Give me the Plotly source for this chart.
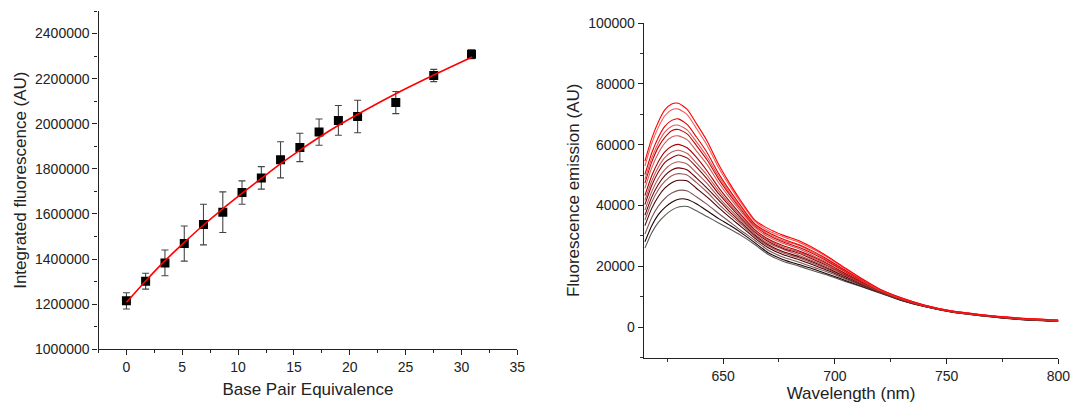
import plotly.graph_objects as go

# ---------------- Left panel data ----------------
bp_equiv = [0, 1.72, 3.45, 5.18, 6.9, 8.63, 10.35, 12.08, 13.8, 15.53, 17.25, 18.98, 20.7, 24.12, 27.52, 30.9]
integrated = [1215000, 1302000, 1383000, 1469000, 1553000, 1608000, 1695000, 1760000, 1840000, 1895000,
              1963000, 2015000, 2032000, 2094000, 2214000, 2308000]
integrated_err = [36000, 35000, 57000, 78000, 90000, 90000, 52000, 50000, 80000, 63000,
                  58000, 66000, 72000, 49000, 27000, 20000]
fit_x = [0, 1.72, 3.44, 5.16, 6.88, 8.6, 10.32, 12.04, 13.76, 15.48, 17.2, 18.92, 20.64, 24.08, 27.52, 30.96]
fit_y = [1208000, 1303000, 1392000, 1473000, 1550000, 1622000, 1690000, 1756000, 1821000, 1881000,
         1938000, 1991000, 2040000, 2132000, 2216000, 2296000]

# ---------------- Right panel data ----------------
wavelength = [615, 618, 621, 624, 627, 630, 634, 638, 643, 648, 653, 658, 664, 670, 677, 684, 691, 698,
              705, 712, 720, 730, 740, 752, 765, 780, 800]
em_00 = [26000, 31000, 34500, 36800, 38500, 39500, 39700, 38300, 36300, 34300, 32300, 30200, 27300, 24000, 21600, 20100, 18400, 16800, 15000, 13300, 11300, 8700, 6800, 5000, 3800, 2700, 1900]
em_01 = [28100, 33300, 37000, 39400, 41100, 42100, 42000, 40600, 38200, 35700, 33500, 31100, 27900, 24600, 22200, 20600, 19000, 17200, 15300, 13500, 11400, 8800, 6800, 5000, 3800, 2700, 1900]
em_02 = [30600, 36000, 39800, 42400, 44100, 45000, 44800, 42900, 40300, 37400, 34600, 31800, 28700, 25400, 23000, 21400, 19600, 17800, 15700, 13700, 11500, 8800, 6900, 5100, 3900, 2800, 2000]
em_03 = [33400, 39000, 43000, 45800, 47500, 48300, 48100, 45700, 42700, 39300, 36100, 33100, 29400, 26200, 23800, 22200, 20300, 18300, 16100, 14000, 11600, 8900, 6900, 5100, 3900, 2800, 2000]
em_04 = [35200, 41000, 45200, 48000, 49800, 50500, 50000, 47600, 44300, 40500, 37100, 33900, 29900, 26800, 24400, 22800, 20800, 18700, 16400, 14200, 11700, 9000, 7000, 5100, 3900, 2900, 2100]
em_05 = [36800, 42700, 46900, 49900, 51700, 52400, 51700, 49100, 45600, 41800, 37900, 34500, 30400, 27200, 24800, 23200, 21200, 19000, 16600, 14300, 11800, 9000, 7000, 5200, 4000, 2900, 2100]
em_06 = [38500, 44500, 48900, 51900, 53700, 54400, 53600, 50800, 47100, 42700, 38800, 35100, 30800, 27700, 25600, 23700, 21600, 19400, 16900, 14500, 11900, 9100, 7000, 5200, 4000, 2900, 2100]
em_07 = [40300, 46500, 51000, 54200, 55700, 56600, 55600, 52700, 48600, 43900, 39800, 35800, 31400, 28300, 25900, 24300, 22100, 19800, 17200, 14700, 12000, 9200, 7100, 5200, 4000, 3000, 2200]
em_08 = [41700, 48000, 52600, 55800, 57600, 58200, 57100, 54000, 49800, 44800, 40500, 36400, 31700, 28700, 26300, 24700, 22500, 20000, 17400, 14800, 12000, 9200, 7100, 5200, 4000, 3000, 2200]
em_09 = [43300, 49700, 54400, 57700, 59500, 60100, 58900, 55900, 51200, 45900, 41300, 37000, 32200, 29100, 26800, 25100, 22900, 20400, 17600, 14900, 12100, 9200, 7100, 5200, 4000, 3000, 2200]
em_10 = [45700, 52300, 57200, 60600, 62500, 62900, 61600, 58000, 53300, 47500, 42500, 38000, 32900, 29800, 27500, 25800, 23300, 20900, 18000, 15200, 12200, 9300, 7100, 5300, 4100, 3000, 2200]
em_11 = [47400, 54200, 59200, 62500, 64600, 65000, 63500, 59800, 54800, 48700, 43500, 38700, 33400, 30400, 28000, 26300, 23900, 21200, 18200, 15300, 12300, 9400, 7200, 5300, 4100, 3100, 2300]
em_12 = [48600, 55500, 60600, 64200, 66100, 66400, 64800, 61000, 55800, 49500, 44100, 39100, 33700, 30700, 28400, 26900, 24300, 21500, 18400, 15400, 12300, 9400, 7200, 5300, 4100, 3100, 2300]
em_13 = [50200, 57200, 62400, 66100, 68000, 68500, 66600, 62600, 57200, 50500, 44900, 39800, 34100, 31200, 28900, 27100, 24700, 21800, 18600, 15600, 12400, 9500, 7200, 5300, 4100, 3100, 2300]
em_14 = [53000, 60300, 65700, 69600, 71500, 71700, 69800, 65400, 59600, 52400, 46400, 40900, 35000, 31800, 29700, 27900, 25400, 22400, 19100, 15900, 12500, 9600, 7300, 5400, 4200, 3200, 2400]
em_15 = [54600, 62000, 67500, 71500, 73400, 73600, 71500, 67000, 61000, 53500, 47200, 41500, 35400, 32500, 30200, 28400, 25800, 22700, 19300, 16000, 12600, 9600, 7300, 5400, 4200, 3200, 2400]
spectra = [em_00, em_01, em_02, em_03, em_04, em_05, em_06, em_07,
           em_08, em_09, em_10, em_11, em_12, em_13, em_14, em_15]

FONT = "Liberation Sans, Arial, sans-serif"
W, H = 1073, 407

def spec_color(i, n):
    t = (i / (n - 1)) ** 0.75
    r, g, b = 255 * t, 0, 0
    if (n - 1 - i) % 2 == 1:  # alternate lighter shades
        m = 0.35
        r, g, b = r + (255 - r) * m, g + (255 - g) * m, b + (255 - b) * m
    return "rgb(%d,%d,%d)" % (round(r), round(g), round(b))

fig = go.Figure()

fig.add_trace(go.Scatter(
    x=bp_equiv, y=integrated, mode="markers",
    marker=dict(symbol="square", size=9, color="black"),
    error_y=dict(type="data", array=integrated_err, color="#444", thickness=1.1, width=3.5),
    xaxis="x", yaxis="y", showlegend=False))
fig.add_trace(go.Scatter(
    x=fit_x, y=fit_y, mode="lines", line=dict(color="#ff0000", width=1.6, shape="spline"),
    xaxis="x", yaxis="y", showlegend=False))

n = len(spectra)
for i, s in enumerate(spectra):
    fig.add_trace(go.Scatter(
        x=wavelength, y=s, mode="lines",
        line=dict(color=spec_color(i, n), width=1.1, shape="spline", smoothing=0.6),
        xaxis="x2", yaxis="y2", showlegend=False))

def px_x(p):
    return p / W

def px_y(p):
    return 1 - p / H

tickfont = dict(family=FONT, size=14, color="#222")
titlefont = dict(family=FONT, size=17, color="#222")
common = dict(showline=True, linecolor="#222", linewidth=1.3, ticks="outside", ticklen=5,
              tickwidth=1.2, tickcolor="#222", showgrid=False, zeroline=False, tickfont=tickfont,
              tickformat="d", automargin=False)

fig.update_layout(
    width=W, height=H, autosize=False,
    margin=dict(l=0, r=0, t=0, b=0),
    paper_bgcolor="white", plot_bgcolor="white",
    font=dict(family=FONT),
    xaxis=dict(domain=[px_x(98.5), px_x(517.3)], range=[-2.5, 35], tick0=0, dtick=5,
               minor=dict(dtick=2.5, tick0=0, ticks="outside", ticklen=3, tickcolor="#222"),
               title=dict(text="Base Pair Equivalence", font=titlefont, standoff=8),
               anchor="y", **common),
    yaxis=dict(domain=[px_y(349.3), px_y(11)], range=[1000000, 2500000], tick0=1000000, dtick=200000,
               minor=dict(dtick=100000, tick0=1000000, ticks="outside", ticklen=3, tickcolor="#222"),
               title=dict(text="Integrated fluorescence (AU)", font=titlefont, standoff=4),
               anchor="x", **common),
    xaxis2=dict(domain=[px_x(643.8), px_x(1058.3)], range=[614.5, 800], tick0=650, dtick=50,
                minor=dict(dtick=25, tick0=650, ticks="outside", ticklen=3, tickcolor="#333"),
                title=dict(text="Wavelength (nm)", font=titlefont, standoff=4),
                anchor="y2", **common),
    yaxis2=dict(domain=[px_y(357.7), px_y(23)], range=[-10000, 100000], tick0=0, dtick=20000,
                minor=dict(dtick=10000, tick0=0, ticks="outside", ticklen=3, tickcolor="#333"),
                title=dict(text="Fluorescence emission (AU)", font=titlefont, standoff=4),
                anchor="x2", **common),
)

fig.write_html("out.html")
